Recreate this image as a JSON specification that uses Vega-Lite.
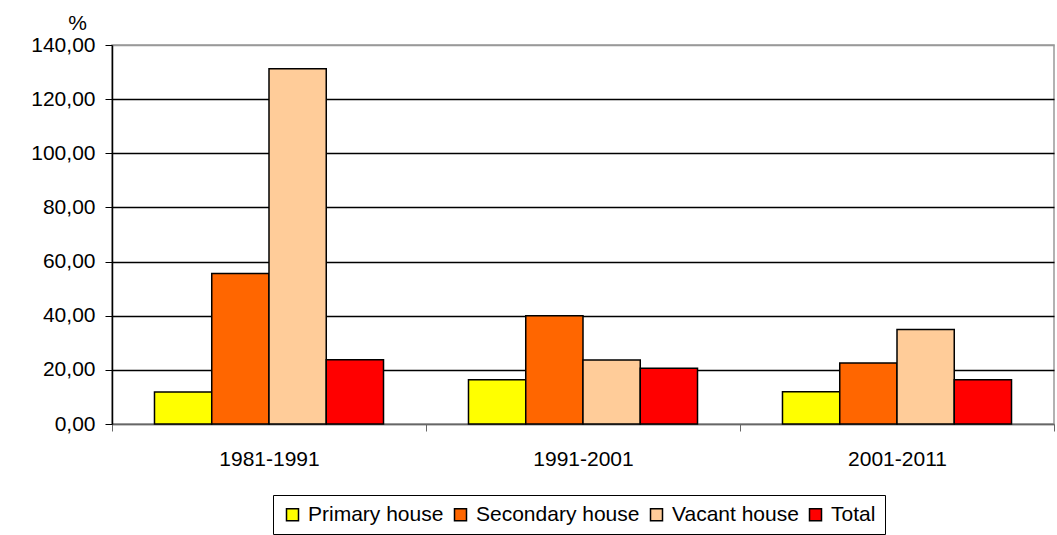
{
  "$schema": "https://vega.github.io/schema/vega-lite/v6.json",
  "width": 942,
  "height": 379,
  "autosize": {"type": "none"},
  "padding": {"left": 112, "top": 45, "right": 3, "bottom": 111},
  "background": "white",
  "config": {
    "font": "Liberation Sans",
    "view": {"stroke": "#999999", "strokeWidth": 1.5}
  },
  "data": {
    "values": [
      {"period": "1981-1991", "type": "Primary house", "value": 11.8},
      {"period": "1981-1991", "type": "Secondary house", "value": 55.6},
      {"period": "1981-1991", "type": "Vacant house", "value": 131.2},
      {"period": "1981-1991", "type": "Total", "value": 23.7},
      {"period": "1991-2001", "type": "Primary house", "value": 16.3},
      {"period": "1991-2001", "type": "Secondary house", "value": 40.0},
      {"period": "1991-2001", "type": "Vacant house", "value": 23.6},
      {"period": "1991-2001", "type": "Total", "value": 20.6},
      {"period": "2001-2011", "type": "Primary house", "value": 11.9},
      {"period": "2001-2011", "type": "Secondary house", "value": 22.5},
      {"period": "2001-2011", "type": "Vacant house", "value": 34.9},
      {"period": "2001-2011", "type": "Total", "value": 16.3}
    ]
  },
  "mark": {"type": "bar", "stroke": "black", "strokeWidth": 1.5},
  "encoding": {
    "x": {
      "field": "period",
      "type": "nominal",
      "scale": {"paddingInner": 0, "paddingOuter": 0},
      "axis": {
        "title": null,
        "labelAngle": 0,
        "labelFontSize": 21,
        "labelColor": "black",
        "labelPadding": 17,
        "tickBand": "extent",
        "tickSize": 7,
        "tickColor": "#666666",
        "domainColor": "#666666",
        "domainWidth": 1.5,
        "grid": false
      }
    },
    "xOffset": {
      "field": "type",
      "sort": ["Primary house", "Secondary house", "Vacant house", "Total"],
      "scale": {"paddingInner": 0, "paddingOuter": 0.742}
    },
    "y": {
      "field": "value",
      "type": "quantitative",
      "scale": {"domain": [0, 140], "nice": false},
      "axis": {
        "title": "%",
        "titleAngle": 0,
        "titleAlign": "center",
        "titleBaseline": "bottom",
        "titleX": -35,
        "titleY": -12,
        "titleFontSize": 21,
        "titleFontWeight": "normal",
        "titleColor": "black",
        "values": [0, 20, 40, 60, 80, 100, 120, 140],
        "labelExpr": "replace(format(datum.value, '.2f'), '.', ',')",
        "labelFontSize": 21,
        "labelColor": "black",
        "labelPadding": 10,
        "tickSize": 7,
        "tickColor": "black",
        "domainColor": "black",
        "domainWidth": 1.5,
        "grid": true,
        "gridColor": {"condition": {"test": "datum.value === 140 || datum.value === 0", "value": "#999999"}, "value": "black"},
        "gridWidth": 1.5
      }
    },
    "color": {
      "field": "type",
      "type": "nominal",
      "sort": ["Primary house", "Secondary house", "Vacant house", "Total"],
      "scale": {
        "domain": ["Primary house", "Secondary house", "Vacant house", "Total"],
        "range": ["#FFFF00", "#FF6600", "#FFCC99", "#FF0000"]
      },
      "legend": {
        "title": null,
        "orient": "none",
        "direction": "horizontal",
        "legendX": 161,
        "legendY": 450,
        "symbolType": "square",
        "symbolSize": 144,
        "symbolStrokeColor": "black",
        "symbolStrokeWidth": 1.5,
        "labelFontSize": 21,
        "labelLimit": 0,
        "labelColor": "black",
        "labelOffset": 5,
        "columnPadding": 6,
        "strokeColor": "black",
        "padding": 9
      }
    }
  }
}
